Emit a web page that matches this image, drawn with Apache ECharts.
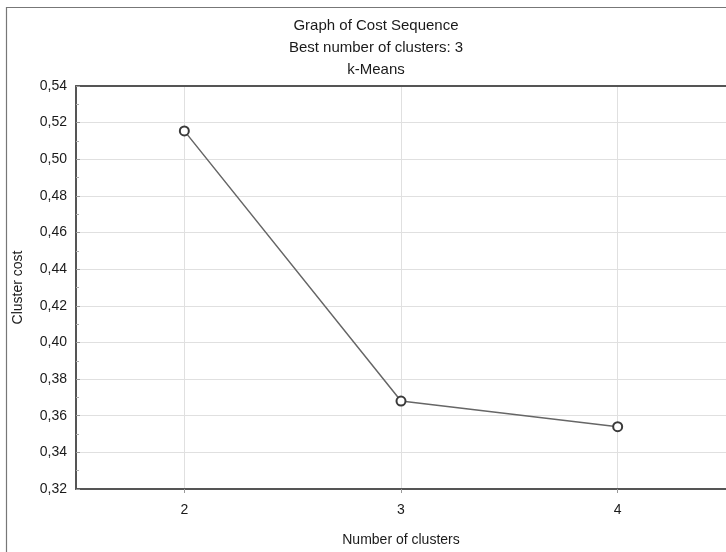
<!DOCTYPE html>
<html>
<head>
<meta charset="utf-8">
<script src="https://cdn.jsdelivr.net/npm/echarts@6/dist/echarts.min.js"></script>
<style>
html,body{margin:0;padding:0;background:#fff;}
#chart{width:726px;height:552px;}
</style>
</head>
<body>
<div id="chart"></div>
<script>
const titleLines = ['Graph of Cost Sequence', 'Best number of clusters: 3', 'k-Means'];
const clusters = [2, 3, 4];
const costs = [0.5155, 0.368, 0.354];
const yTicks = [0.32, 0.34, 0.36, 0.38, 0.40, 0.42, 0.44, 0.46, 0.48, 0.50, 0.52, 0.54];
const xName = 'Number of clusters';
const yName = 'Cluster cost';

const chart = echarts.init(document.getElementById('chart'), null, {renderer: 'canvas'});
const font = 'Liberation Sans, Arial, sans-serif';
const xAxisMain = {
  type: 'value', min: 1.5, max: 4.5,
  name: xName, nameLocation: 'middle', nameGap: 44,
  nameTextStyle: {fontSize: 14, color: '#1a1a1a', fontFamily: font},
  axisLine: {show: true, lineStyle: {color: '#555', width: 2}},
  axisTick: {show: true, inside: false, length: 4, customValues: clusters, lineStyle: {color: '#999'}},
  axisLabel: {customValues: clusters, fontSize: 14, color: '#1a1a1a', margin: 14, fontFamily: font},
  splitLine: {show: true, lineStyle: {color: '#e0e0e0', width: 1}}
};
const xAxisTop = {
  type: 'value', min: 1.5, max: 4.5, position: 'top',
  axisLine: {show: true, lineStyle: {color: '#555', width: 2}},
  axisTick: {show: false}, axisLabel: {show: false}, splitLine: {show: false}
};
const option = {
  backgroundColor: '#fff',
  animation: false,
  textStyle: {fontFamily: font},
  graphic: [{
    type: 'rect', left: 4, top: 5, z: -1,
    shape: {x: 0, y: 0, width: 760, height: 600},
    style: {fill: 'none', stroke: '#777', lineWidth: 1.2}
  }],
  title: {
    text: titleLines.join('\n'),
    left: 371, top: 10, textAlign: 'center',
    textStyle: {fontSize: 15, fontWeight: 'normal', color: '#1a1a1a', lineHeight: 22, fontFamily: font}
  },
  grid: {left: 76, top: 86, width: 657, height: 411, containLabel: false},
  xAxis: [xAxisMain, xAxisTop],
  yAxis: {
    type: 'value', min: yTicks[0], max: yTicks[yTicks.length - 1], interval: 0.02,
    name: yName, nameLocation: 'middle', nameGap: 51, nameRotate: 90,
    nameTextStyle: {fontSize: 14, color: '#1a1a1a', fontFamily: font},
    axisLine: {show: true, lineStyle: {color: '#555', width: 2}},
    axisTick: {show: true, inside: true, length: 4, lineStyle: {color: '#999'}},
    minorTick: {show: true, splitNumber: 2, length: 3, lineStyle: {color: '#aaa'}},
    axisLabel: {
      fontSize: 14, color: '#1a1a1a', margin: 9, fontFamily: font,
      formatter: v => v.toFixed(2).replace('.', ',')
    },
    splitLine: {show: true, lineStyle: {color: '#e0e0e0', width: 1}}
  },
  series: [{
    type: 'line',
    xAxisIndex: 0,
    data: clusters.map((c, i) => [c, costs[i]]),
    symbol: 'circle', symbolSize: 9,
    itemStyle: {color: '#fff', borderColor: '#3a3a3a', borderWidth: 2},
    lineStyle: {color: '#666', width: 1.5}
  }]
};
chart.setOption(option);
</script>
</body>
</html>
